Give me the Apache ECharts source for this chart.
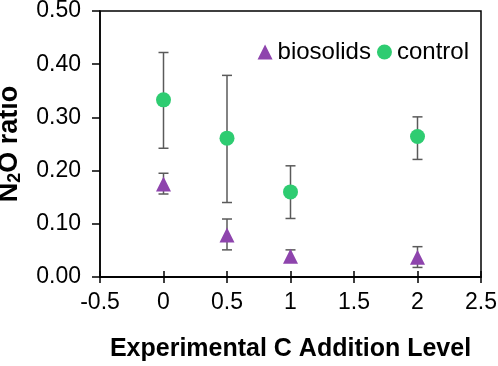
<!DOCTYPE html>
<html>
<head>
<meta charset="utf-8">
<script src="https://cdn.jsdelivr.net/npm/echarts@6/dist/echarts.min.js"></script>
<style>
html, body { margin: 0; padding: 0; background: #fff; }
#chart { width: 498px; height: 366px; }
</style>
</head>
<body>
<div id="chart"></div>
<script>
// C addition levels
var levels = [0, 0.5, 1, 2];
// biosolids: mean, low, high
var bioMean = [0.175, 0.079, 0.039, 0.037];
var bioLow = [0.156, 0.051, 0.030, 0.018];
var bioHigh = [0.195, 0.109, 0.051, 0.057];
// control: mean, low, high
var ctlMean = [0.333, 0.261, 0.160, 0.264];
var ctlLow = [0.242, 0.140, 0.110, 0.221];
var ctlHigh = [0.422, 0.379, 0.209, 0.301];

var fontName = 'Liberation Sans, Arial, sans-serif';

function pairs(xs, ys) {
    return xs.map(function (x, i) { return [x, ys[i]]; });
}
function errRows(xs, lo, hi) {
    return xs.map(function (x, i) { return [x, lo[i], hi[i]]; });
}

// error bar drawing
function renderErr(params, api) {
    var x = api.value(0);
    var lo = api.coord([x, api.value(1)]);
    var hi = api.coord([x, api.value(2)]);
    var w = 5;
    var st = { stroke: '#5a5a5a', lineWidth: 1.5 };
    return {
        type: 'group',
        children: [
            { type: 'line', shape: { x1: lo[0], y1: lo[1], x2: hi[0], y2: hi[1] }, style: st },
            { type: 'line', shape: { x1: lo[0] - w, y1: lo[1], x2: lo[0] + w, y2: lo[1] }, style: st },
            { type: 'line', shape: { x1: hi[0] - w, y1: hi[1], x2: hi[0] + w, y2: hi[1] }, style: st }
        ]
    };
}

var chart = echarts.init(document.getElementById('chart'));
var xBase = {
    type: 'value', min: -0.5, max: 2.5, interval: 0.5,
    splitLine: { show: false },
    axisLine: { onZero: false, lineStyle: { color: '#000', width: 1.5 } }
};
chart.setOption({
    animation: false,
    textStyle: { fontFamily: fontName },
    grid: {
        left: 100, right: 17, top: 11, bottom: 89,
        outerBoundsMode: 'none', containLabel: false,
        show: true, borderColor: '#000', borderWidth: 1.5
    },
    legend: {
        right: 24, top: 35,
        itemWidth: 15, itemHeight: 15, itemGap: 6,
        textStyle: { fontSize: 24, color: '#000', fontFamily: fontName },
        data: [
            { name: 'biosolids', icon: 'triangle' },
            { name: 'control', icon: 'circle' }
        ]
    },
    xAxis: [
        Object.assign({}, xBase, {
            name: 'Experimental C Addition Level',
            nameLocation: 'middle', nameGap: 60,
            nameTextStyle: { fontSize: 25, fontWeight: 'bold', color: '#000' },
            axisTick: { show: true, inside: false, length: 6, lineStyle: { color: '#000', width: 1.5 } },
            axisLabel: { fontSize: 23, color: '#000', margin: 14, formatter: function (v) { return String(v); } }
        }),
        Object.assign({}, xBase, {
            position: 'bottom',
            axisTick: { show: true, inside: true, length: 6, lineStyle: { color: '#000', width: 1.5 } },
            axisLabel: { show: false }
        })
    ],
    yAxis: {
        type: 'value', min: 0, max: 0.5, interval: 0.1,
        name: '{a|N}{s|2}{a|O ratio}',
        nameLocation: 'middle', nameGap: 76,
        nameTextStyle: {
            rich: {
                a: { fontSize: 27, fontWeight: 'bold', color: '#000', fontFamily: fontName },
                s: { fontSize: 18, fontWeight: 'bold', color: '#000', fontFamily: fontName, verticalAlign: 'bottom', padding: [10, 0, 0, 0] }
            }
        },
        splitLine: { show: false },
        axisLine: { show: true, onZero: false, lineStyle: { color: '#000', width: 1.5 } },
        axisTick: { show: true, inside: false, length: 8, lineStyle: { color: '#000', width: 1.5 } },
        axisLabel: { fontSize: 23, color: '#000', margin: 19, formatter: function (v) { return v.toFixed(2); } }
    },
    series: [
        {
            type: 'custom', name: 'bioErr', renderItem: renderErr,
            data: errRows(levels, bioLow, bioHigh), encode: { x: 0, y: [1, 2] }, z: 1, silent: true
        },
        {
            type: 'custom', name: 'ctlErr', renderItem: renderErr,
            data: errRows(levels, ctlLow, ctlHigh), encode: { x: 0, y: [1, 2] }, z: 1, silent: true
        },
        {
            type: 'scatter', name: 'biosolids', symbol: 'triangle', symbolSize: 15,
            itemStyle: { color: '#8e44ad', opacity: 1 }, z: 3,
            data: pairs(levels, bioMean)
        },
        {
            type: 'scatter', name: 'control', symbol: 'circle', symbolSize: 15,
            itemStyle: { color: '#2ecc71', opacity: 1 }, z: 3,
            data: pairs(levels, ctlMean)
        }
    ]
});
</script>
</body>
</html>
